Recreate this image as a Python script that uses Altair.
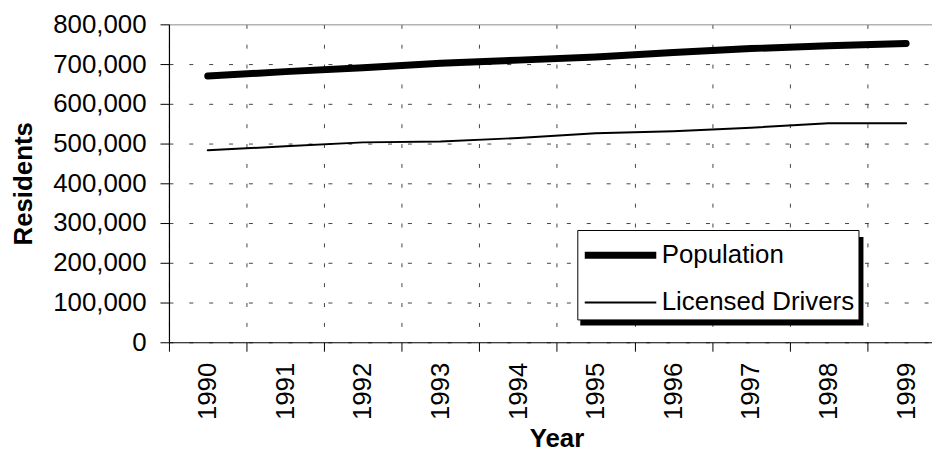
import altair as alt
import pandas as pd

# ---- data ----
years = [1990, 1991, 1992, 1993, 1994, 1995, 1996, 1997, 1998, 1999]
population = [670000, 681000, 691000, 702000, 710000, 718000, 729000, 739000, 746000, 752000]
drivers = [483000, 493000, 503000, 505000, 514000, 526000, 531000, 540000, 551000, 551000]
series_names = ["Population", "Licensed Drivers"]
y_ticks = [0, 100000, 200000, 300000, 400000, 500000, 600000, 700000, 800000]
x_bounds = [1989.5, 1990.5, 1991.5, 1992.5, 1993.5, 1994.5, 1995.5, 1996.5, 1997.5, 1998.5]

rows = []
for yr, p, d in zip(years, population, drivers):
    rows.append({"Year": yr, "Series": "Population", "Residents": p})
    rows.append({"Year": yr, "Series": "Licensed Drivers", "Residents": d})
df = pd.DataFrame(rows)

FONT = "Liberation Sans"
W, H = 768, 320
BAND = 78.1

x_scale = alt.Scale(domain=[1989.5, 1989.5 + W / BAND], nice=False, zero=False)
y_scale = alt.Scale(domain=[0, 800000], nice=False)

x_axis = alt.Axis(
    values=x_bounds + years,
    labelExpr="datum.value % 1 === 0 ? format(datum.value, 'd') : ''",
    labelAngle=270, labelAlign="right", labelBaseline="middle",
    labelPadding=11, labelFontSize=26, labelFont=FONT, labelColor="black",
    labelFlush=False, labelOverlap=False, labelBound=False,
    tickSize=9, tickColor="black", tickWidth=1,
    tickOpacity={"condition": {"test": "datum.value % 1 === 0", "value": 0}, "value": 1},
    grid=True, gridColor="#444", gridWidth=1, gridDash=[4, 16],
    gridOpacity={"condition": {"test": "datum.value % 1 === 0", "value": 0}, "value": 1},
    domainColor="black", domainWidth=1.2,
    title="Year", titleFont=FONT, titleFontSize=26, titleFontWeight="bold",
    titleColor="black", titleX=390, titleY=105, titleBaseline="alphabetic",
    titleAlign="center",
)

y_axis = alt.Axis(
    values=y_ticks, format=",d",
    labelFontSize=26, labelFont=FONT, labelColor="black", labelPadding=14,
    labelFlush=False, labelOverlap=False,
    tickSize=9, tickColor="black", tickWidth=1,
    grid=True, gridWidth=1,
    gridColor={"condition": {"test": "datum.value === 800000", "value": "#8c8c8c"}, "value": "#444"},
    gridDash={"condition": {"test": "datum.value === 800000", "value": []}, "value": [4, 16]},
    domainColor="black", domainWidth=1.2,
    title="Residents", titleFont=FONT, titleFontSize=26, titleFontWeight="bold",
    titleColor="black", titleAngle=270, titleX=-138, titleY=160,
    titleBaseline="alphabetic", titleAlign="center",
)

lines = alt.Chart(df).mark_line(color="black", strokeCap="round", strokeJoin="round").encode(
    x=alt.X("Year:Q", scale=x_scale, axis=x_axis),
    y=alt.Y("Residents:Q", scale=y_scale, axis=y_axis),
    strokeWidth=alt.StrokeWidth(
        "Series:N",
        sort=series_names,
        scale=alt.Scale(domain=series_names, range=[7, 2]),
        legend=alt.Legend(
            orient="none", legendX=411, legendY=207, title=None,
            symbolType="M-2,0H2", symbolSize=1296, symbolOffset=18,
            symbolStrokeColor="black",
            labelFontSize=26, labelFont=FONT, labelColor="black", labelOffset=20,
            labelLimit=400, padding=4, rowPadding=14,
            strokeColor="black", fillColor="white", cornerRadius=0,
        ),
    ),
)

shadow_df = pd.DataFrame({"k": [0]})
shadow = alt.Chart(shadow_df).mark_rect(color="black").encode(
    x=alt.value(414), x2=alt.value(699), y=alt.value(214), y2=alt.value(303)
)

chart = alt.layer(shadow, lines).properties(
    width=W, height=H,
    autosize=alt.AutoSizeParams(type="none"),
    padding={"left": 162, "top": 15, "right": 0, "bottom": 109},
    background="white",
).configure_view(stroke="transparent")

chart.save("out.html", embed_options={"renderer": "svg", "actions": False})
